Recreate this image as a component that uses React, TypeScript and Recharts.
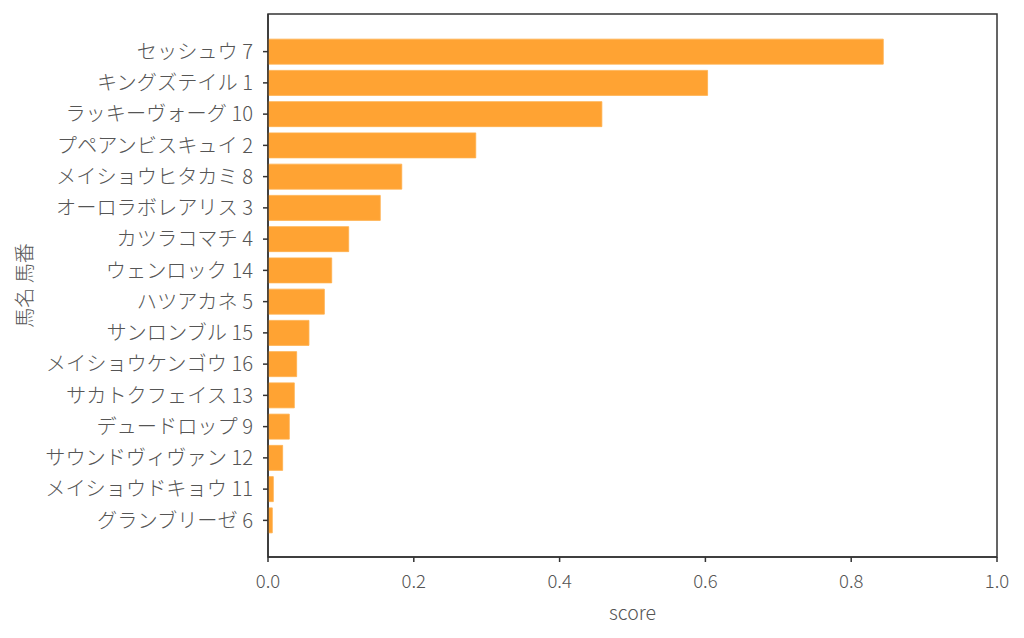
import React from 'react'
import * as Recharts from 'recharts'
import { BarChart, Bar, XAxis, YAxis } from 'recharts'

const horses = [
  'セッシュウ 7',
  'キングズテイル 1',
  'ラッキーヴォーグ 10',
  'プペアンビスキュイ 2',
  'メイショウヒタカミ 8',
  'オーロラボレアリス 3',
  'カツラコマチ 4',
  'ウェンロック 14',
  'ハツアカネ 5',
  'サンロンブル 15',
  'メイショウケンゴウ 16',
  'サカトクフェイス 13',
  'デュードロップ 9',
  'サウンドヴィヴァン 12',
  'メイショウドキョウ 11',
  'グランブリーゼ 6',
]

const scores = [
  0.844, 0.603, 0.458, 0.285, 0.1835, 0.154, 0.1107, 0.0874,
  0.0773, 0.0562, 0.0393, 0.0361, 0.0292, 0.0201, 0.0073, 0.0059,
]

const xTicks = [0, 0.2, 0.4, 0.6, 0.8, 1.0]

const data = horses.map((name, i) => ({ name, score: scores[i] }))

const font = '"Noto Sans CJK JP", "Noto Sans", sans-serif'
const textColor = '#555'
const axisColor = '#333'

const usePlotArea: any = (Recharts as any).usePlotArea

// box round the plot area, like matplotlib's spines
function Frame() {
  const area = usePlotArea ? usePlotArea() : null
  if (!area) return null
  return (
    <rect x={area.x} y={area.y} width={area.width} height={area.height}
      fill="none" stroke={axisColor} strokeWidth={1.5} />
  )
}

export default function App() {
  return (
    <div style={{ position: 'fixed', left: 0, top: 0, width: 1024, height: 638, background: '#fff', fontFamily: font }}>
      <BarChart
        width={1024}
        height={638}
        data={data}
        layout="vertical"
        barCategoryGap="10%"
        margin={{ top: 14, right: 27, bottom: 0, left: 0 }}
      >
        <XAxis
          type="number"
          dataKey="score"
          domain={[0, 1]}
          ticks={xTicks}
          tickFormatter={(v) => Number(v).toFixed(1)}
          height={81}
          stroke={axisColor}
          strokeWidth={1.5}
          tickSize={5}
          tickMargin={13}
          tick={{ fill: textColor, fontSize: 18.5, fontWeight: 300, fontFamily: font }}
          label={{ value: 'score', position: 'insideBottom', offset: 18, fill: textColor, fontSize: 19.5, fontWeight: 300, fontFamily: font }}
        />
        <YAxis
          type="category"
          dataKey="name"
          width={268}
          padding={{ top: 22, bottom: 21 }}
          stroke={axisColor}
          strokeWidth={1.5}
          tickSize={5}
          tickMargin={10}
          interval={0}
          tick={{ fill: textColor, fontSize: 20.2, fontWeight: 300, fontFamily: font }}
          label={{ value: '馬名 馬番', angle: -90, position: 'insideLeft', offset: 25, fill: textColor, fontSize: 20, fontWeight: 300, fontFamily: font, style: { textAnchor: 'middle' } }}
        />
        <Bar dataKey="score" fill="#FFA333" stroke="#FFB04D" strokeWidth={0.8} isAnimationActive={false} />
        <Frame />
      </BarChart>
    </div>
  )
}
